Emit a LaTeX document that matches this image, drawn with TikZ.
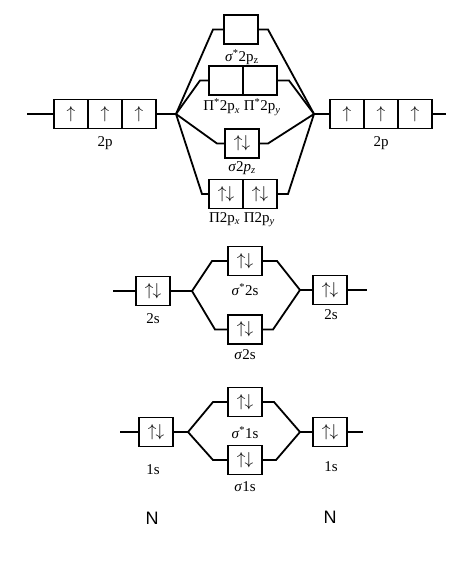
\documentclass[tikz,border=0pt]{standalone}
\usepackage{fontspec}
\setmainfont{Liberation Serif}
\newfontfamily\atomfont{Liberation Sans}
\usetikzlibrary{positioning}
\newcommand{\up}{$\uparrow$}
\newcommand{\pair}{$\uparrow\mkern-1mu\downarrow$}

\begin{document}
\begin{tikzpicture}[x=1pt, y=-1pt, node distance=0pt]
  \tikzstyle{orb}=[rectangle, draw, line width=1.5pt, outer sep=0pt, inner sep=0pt, minimum width=34pt, minimum height=29pt, font=\fontsize{16}{16}\selectfont]
  \tikzstyle{lab}=[inner sep=0pt, font=\fontsize{15}{17}\selectfont]
  \tikzstyle{atom}=[inner sep=0pt, font=\atomfont\fontsize{18}{18}\selectfont]
  \tikzstyle{wire}=[line width=1.8pt]
  \useasboundingbox (0,0) rectangle (474,573);

  % atomic 2p, left and right
  \node[orb] (l2px) at (71,114) {\up};
  \node[orb, right=of l2px] (l2py) {\up};
  \node[orb, right=of l2py] (l2pz) {\up};
  \node[orb] (r2px) at (347,114) {\up};
  \node[orb, right=of r2px] (r2py) {\up};
  \node[orb, right=of r2py] (r2pz) {\up};
  \node[lab] (l2plab) at (105,143) {2p};
  \node[lab] (r2plab) at (381,143) {2p};
  \coordinate (l2pin) at (27,114);
  \coordinate (lp) at (176,114);
  \coordinate (rp) at (314,114);
  \coordinate (r2pout) at (446,114);
  \draw[wire] (l2pin) -- (l2px.west) (l2pz.east) -- (lp);
  \draw[wire] (rp) -- (r2px.west) (r2pz.east) -- (r2pout);

  % molecular 2p
  \node[orb] (ss2p) at (241,29.5) {};
  \node[orb] (ps2px) at (226,80.5) {};
  \node[orb, right=of ps2px] (ps2py) {};
  \node[orb] (s2p) at (242,143.5) {\pair};
  \node[orb] (p2px) at (226,194) {\pair};
  \node[orb, right=of p2px] (p2py) {\pair};
  \node[lab] (ss2plab) at (242,57) {\textit{σ}\textsuperscript{*}2p\textsubscript{z}};
  \node[lab] (ps2plab) at (242,107) {Π\textsuperscript{*}2p\textsubscript{\textit{x}} Π\textsuperscript{*}2p\textsubscript{\textit{y}}};
  \node[lab] (s2plab) at (242,168) {\textit{σ}2\textit{p}\textsubscript{\textit{z}}};
  \node[lab] (p2plab) at (242,220) {Π2p\textsubscript{\textit{x}} Π2p\textsubscript{\textit{y}}};
  \draw[wire] (lp) -- ([xshift=-11pt]ss2p.west) -- (ss2p.west) (ss2p.east) -- ([xshift=10pt]ss2p.east) -- (rp);
  \draw[wire] (lp) -- ([xshift=-9pt]ps2px.west) -- (ps2px.west) (ps2py.east) -- ([xshift=12pt]ps2py.east) -- (rp);
  \draw[wire] (lp) -- ([xshift=-8pt]s2p.west) -- (s2p.west) (s2p.east) -- ([xshift=9pt]s2p.east) -- (rp);
  \draw[wire] (lp) -- ([xshift=-7pt]p2px.west) -- (p2px.west) (p2py.east) -- ([xshift=11pt]p2py.east) -- (rp);

  % 2s
  \node[orb] (l2s) at (153,291) {\pair};
  \node[orb] (r2s) at (330,290) {\pair};
  \node[orb] (ss2s) at (245,261) {\pair};
  \node[orb] (s2s) at (245,329.5) {\pair};
  \node[lab] (l2slab) at (153,319) {2s};
  \node[lab] (r2slab) at (331,315) {2s};
  \node[lab] (ss2slab) at (245,290) {\textit{σ}\textsuperscript{*}2s};
  \node[lab] (s2slab) at (245,355) {\textit{σ}2s};
  \coordinate (l2sin) at (113,291);
  \coordinate (ls) at (192,291);
  \coordinate (rs) at (300,290);
  \coordinate (r2sout) at (367,290);
  \draw[wire] (l2sin) -- (l2s.west) (l2s.east) -- (ls);
  \draw[wire] (rs) -- (r2s.west) (r2s.east) -- (r2sout);
  \draw[wire] (ls) -- ([xshift=-16pt]ss2s.west) -- (ss2s.west) (ss2s.east) -- ([xshift=15pt]ss2s.east) -- (rs);
  \draw[wire] (ls) -- ([xshift=-13pt]s2s.west) -- (s2s.west) (s2s.east) -- ([xshift=11pt]s2s.east) -- (rs);

  % 1s
  \node[orb] (l1s) at (156,432) {\pair};
  \node[orb] (r1s) at (330,432) {\pair};
  \node[orb] (ss1s) at (245,402) {\pair};
  \node[orb] (s1s) at (245,460) {\pair};
  \node[lab] (l1slab) at (153,470) {1s};
  \node[lab] (r1slab) at (331,467) {1s};
  \node[lab] (ss1slab) at (245,433) {\textit{σ}\textsuperscript{*}1s};
  \node[lab] (s1slab) at (245,487) {\textit{σ}1s};
  \coordinate (l1sin) at (120,432);
  \coordinate (lo) at (188,432);
  \coordinate (ro) at (300,432);
  \coordinate (r1sout) at (363,432);
  \draw[wire] (l1sin) -- (l1s.west) (l1s.east) -- (lo);
  \draw[wire] (ro) -- (r1s.west) (r1s.east) -- (r1sout);
  \draw[wire] (lo) -- ([xshift=-15pt]ss1s.west) -- (ss1s.west) (ss1s.east) -- ([xshift=12pt]ss1s.east) -- (ro);
  \draw[wire] (lo) -- ([xshift=-15pt]s1s.west) -- (s1s.west) (s1s.east) -- ([xshift=14pt]s1s.east) -- (ro);

  % atoms
  \node[atom] (natl) at (152,518) {N};
  \node[atom] (natr) at (330,517) {N};
\end{tikzpicture}
\end{document}
